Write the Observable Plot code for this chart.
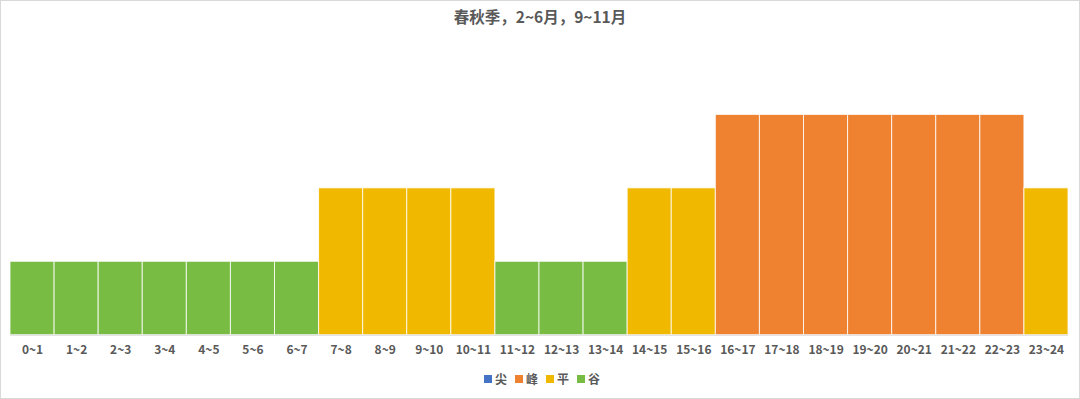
<!DOCTYPE html>
<html><head><meta charset="utf-8">
<script src="https://cdn.jsdelivr.net/npm/d3@7"></script>
<script src="https://cdn.jsdelivr.net/npm/@observablehq/plot@0.6"></script>
<style>
html,body{margin:0;padding:0;background:#fff;}
#wrap{position:relative;width:1080px;height:399px;box-sizing:border-box;border:1px solid #d9d9d9;overflow:hidden;font-family:"Noto Sans CJK SC","Noto Sans",sans-serif;}
#title{position:absolute;left:0;top:4px;width:1078px;text-align:center;font-size:15.5px;font-weight:bold;color:#595959;line-height:22px;}
#chart{position:absolute;left:-1px;top:32px;}
#legend{position:absolute;left:0;top:368px;width:1078px;display:flex;justify-content:center;align-items:center;font-size:12px;font-weight:bold;color:#595959;line-height:20px;}
#legend span.sw{display:inline-block;width:8px;height:8px;margin:0 3px 0 6px;}
#legend span.lb{margin-right:2px;}
</style></head>
<body>
<div id="wrap">
<div id="title"></div>
<div id="chart"></div>
<div id="legend"></div>
</div>
<script>
const title = "春秋季，2~6月，9~11月";
const hours = ["0~1","1~2","2~3","3~4","4~5","5~6","6~7","7~8","8~9","9~10","10~11","11~12","12~13","13~14","14~15","15~16","16~17","17~18","18~19","19~20","20~21","21~22","22~23","23~24"];
const periods = ["谷","谷","谷","谷","谷","谷","谷","平","平","平","平","谷","谷","谷","平","平","峰","峰","峰","峰","峰","峰","峰","平"];
const values = [1,1,1,1,1,1,1,2,2,2,2,1,1,1,2,2,3,3,3,3,3,3,3,2];
const legendNames = ["尖","峰","平","谷"];
const legendColors = ["#4472C4","#EE8231","#F0B900","#78BC43"];

const data = hours.map((h,i)=>({hour:h, period:periods[i], value:values[i]}));

document.getElementById("title").textContent = title;

const chart = Plot.plot({
  width: 1080,
  height: 331,
  marginLeft: 10,
  marginRight: 11,
  marginTop: 8,
  marginBottom: 29,
  style: {fontFamily: '"Noto Sans CJK SC","Noto Sans",sans-serif', fontSize: "12px", fontWeight: "bold", color: "#595959", background: "transparent"},
  x: {domain: hours, padding: 0, round: false, label: null, tickSize: 0, tickPadding: 9},
  y: {domain: [0, 4], axis: null},
  color: {domain: legendNames, range: legendColors},
  marks: [
    Plot.barY(data, {x: "hour", y: "value", fill: "period", stroke: "#ffffff", strokeWidth: 1, strokeOpacity: 0.8}),
    Plot.ruleY([0], {stroke: "#d9d9d9"}),
    Plot.axisX({tickSize: 0, tickPadding: 10, fill: "#595959", fontWeight: "bold", fontSize: 12})
  ]
});
document.getElementById("chart").appendChild(chart);

const lg = document.getElementById("legend");
legendNames.forEach((n,i)=>{
  const sw = document.createElement("span"); sw.className="sw"; sw.style.background = legendColors[i];
  const lb = document.createElement("span"); lb.className="lb"; lb.textContent = n;
  lg.appendChild(sw); lg.appendChild(lb);
});
</script>
</body></html>
